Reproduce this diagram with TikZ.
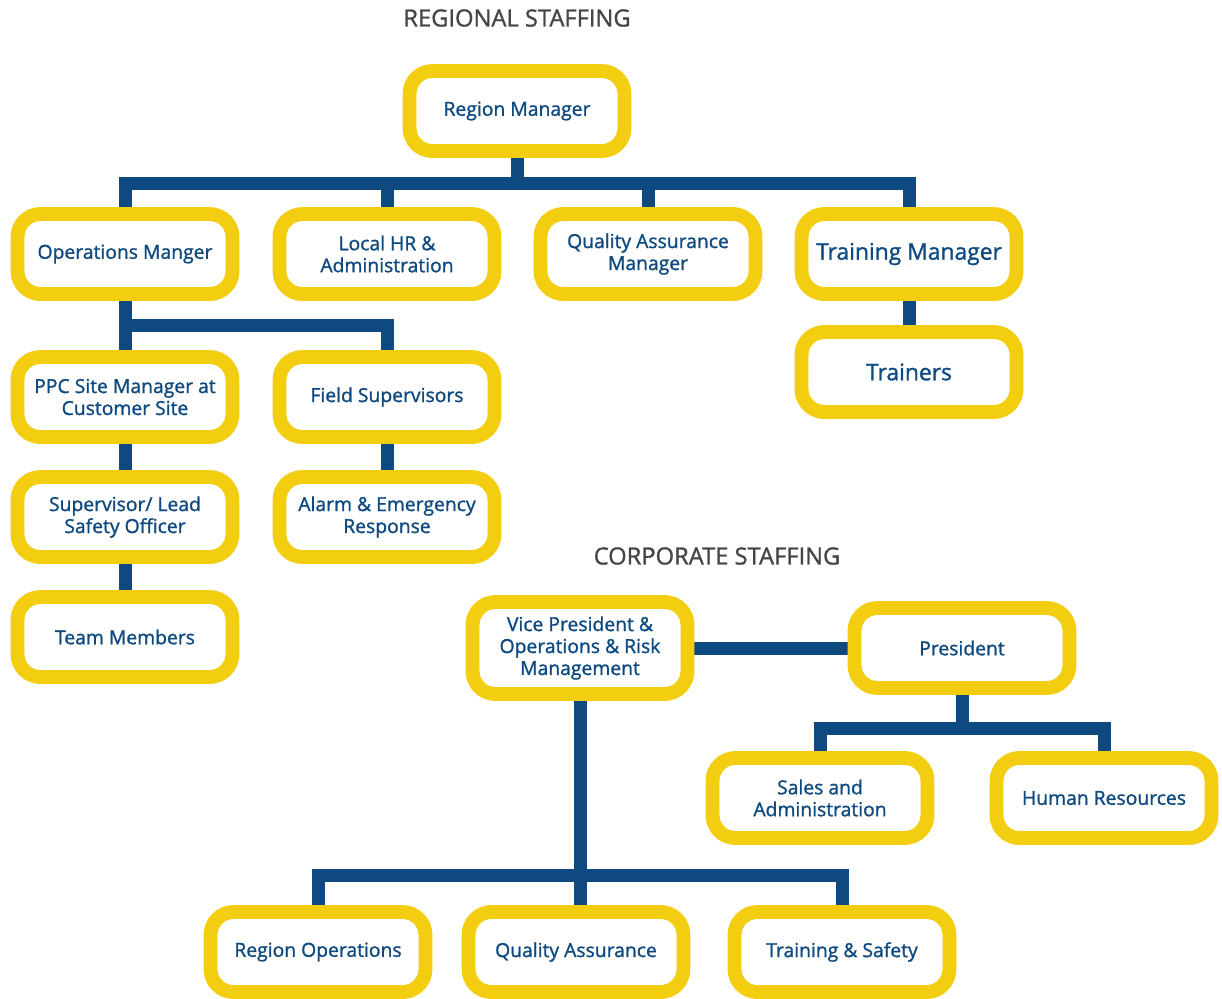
\documentclass[tikz,border=0pt]{standalone}
\usepackage{tikz}
\usepackage{xcolor}
\usepackage{fontspec}
\setmainfont{Open Sans}[FakeBold=1.2]
\usetikzlibrary{backgrounds}

\definecolor{staffyellow}{HTML}{F3CE10}
\definecolor{staffblue}{HTML}{0E4A80}
\definecolor{titlegray}{HTML}{454545}

\tikzstyle{boxes} = [rectangle, rounded corners=13pt, draw=staffyellow, line width=7.9pt,
fill=white, minimum width=4.3cm, minimum height=1.6cm, align=center, text=staffblue,
font=\fontsize{11}{12.5}\selectfont]
\tikzstyle{link} = [draw=staffblue, line width=7.4pt, line join=miter]
\tikzstyle{heading} = [text=titlegray, font=\fontsize{13.5}{15}\selectfont]

\begin{document}
\begin{tikzpicture}[x=0.02cm, y=-0.02cm]
        \useasboundingbox (0,0) rectangle (1222,998);

        % Regional staffing
        \node[heading] at (517,18) (regtitle) {REGIONAL STAFFING};

        \node[boxes] at (517,111) (regmgr) {Region Manager};

        \node[boxes] at (125,254) (opsmgr) {Operations Manger};
        \node[boxes] at (387,254) (hradmin) {Local HR \&\\Administration};
        \node[boxes] at (648,254) (qamgr) {Quality Assurance\\Manager};
        \node[boxes, font=\fontsize{13}{15}\selectfont] at (909,254) (trainmgr) {Training Manager};
        \node[boxes, font=\fontsize{13}{15}\selectfont] at (909,372) (trainers) {Trainers};

        \node[boxes] at (125,397) (ppcmgr) {PPC Site Manager at\\Customer Site};
        \node[boxes] at (387,397) (fieldsup) {Field Supervisors};
        \node[boxes] at (125,517) (leadsup) {Supervisor/ Lead\\Safety Officer};
        \node[boxes] at (387,517) (alarm) {Alarm \& Emergency\\Response};
        \node[boxes] at (125,637) (team) {Team Members};

        % Corporate staffing
        \node[heading] at (717,556) (corptitle) {CORPORATE STAFFING};

        \node[boxes, minimum height=1.84cm] at (580,648) (vp) {Vice President \&\\Operations \& Risk\\Management};
        \node[boxes] at (962,648) (pres) {President};
        \node[boxes] at (820,798) (sales) {Sales and\\Administration};
        \node[boxes] at (1104,798) (hr) {Human Resources};

        \node[boxes] at (318,952) (regops) {Region Operations};
        \node[boxes] at (576,952) (qa) {Quality Assurance};
        \node[boxes] at (842,952) (trainsafe) {Training \& Safety};

        % Draw connectors behind the boxes
        \begin{scope}[on background layer]
            \draw[link] (opsmgr.north) |- (trainmgr.north |- 0,183) -- (trainmgr.north);
            \draw[link] (regmgr.south) -- (regmgr.south |- 0,183);
            \draw[link] (hradmin.north) -- (hradmin.north |- 0,183);
            \draw[link] (qamgr.north) -- (qamgr.north |- 0,183);
            \draw[link] (trainmgr.south) -- (trainers.north);

            \draw[link] (ppcmgr.north) -- (opsmgr.south);
            \draw[link] (opsmgr.south |- 0,325) -| (fieldsup.north);
            \draw[link] (ppcmgr.south) -- (leadsup.north);
            \draw[link] (leadsup.south) -- (team.north);
            \draw[link] (fieldsup.south) -- (alarm.north);

            \draw[link] (vp.east) -- (vp.east -| pres.west);
            \draw[link] (sales.north) |- (hr.north |- 0,728) -- (hr.north);
            \draw[link] (pres.south) -- (pres.south |- 0,728);
            \draw[link] (regops.north) |- (trainsafe.north |- 0,875) -- (trainsafe.north);
            \draw[link] (vp.south) -- (vp.south |- qa.north);
        \end{scope}
    \end{tikzpicture}
\end{document}
